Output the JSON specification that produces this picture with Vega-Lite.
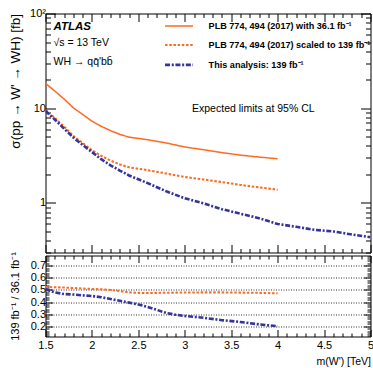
{
  "$schema": "https://vega.github.io/schema/vega-lite/v6.json",
  "padding": {"left": 7.5, "top": 6.5, "right": 0, "bottom": 0},
  "bounds": "flush",
  "spacing": 3,
  "config": {
    "font": "Liberation Sans",
    "view": {"stroke": "#000", "strokeWidth": 1},
    "axis": {"domain": false, "grid": false, "tickColor": "#000", "tickWidth": 1, "labelColor": "#000", "titleColor": "#000", "labelFontSize": 11, "titleFontSize": 10.5, "titleFontWeight": "normal", "labelFont": "Liberation Sans", "titleFont": "Liberation Sans", "labelFlush": false},
    "legend": {"orient": "none", "legendX": 129, "legendY": 8, "padding": 0, "symbolType": "M-14,0H14", "symbolSize": 4, "labelFontSize": 9.1, "labelFontWeight": "bold", "labelFont": "Liberation Sans", "labelColor": "#000", "labelLimit": 400, "rowPadding": 8.9, "labelOffset": 25, "title": null}
  },
  "datasets": {
    "limits": [
      {"series": "s1", "m": 1.5, "sigma": 18.3}, {"series": "s1", "m": 1.6, "sigma": 15.2}, {"series": "s1", "m": 1.7, "sigma": 12.5}, {"series": "s1", "m": 1.8, "sigma": 10.1}, {"series": "s1", "m": 1.9, "sigma": 8.6}, {"series": "s1", "m": 2.0, "sigma": 7.3}, {"series": "s1", "m": 2.1, "sigma": 6.45}, {"series": "s1", "m": 2.2, "sigma": 5.8}, {"series": "s1", "m": 2.3, "sigma": 5.3}, {"series": "s1", "m": 2.4, "sigma": 4.95}, {"series": "s1", "m": 2.5, "sigma": 4.8}, {"series": "s1", "m": 2.6, "sigma": 4.65}, {"series": "s1", "m": 2.8, "sigma": 4.3}, {"series": "s1", "m": 3.0, "sigma": 3.9}, {"series": "s1", "m": 3.2, "sigma": 3.65}, {"series": "s1", "m": 3.4, "sigma": 3.4}, {"series": "s1", "m": 3.6, "sigma": 3.2}, {"series": "s1", "m": 3.8, "sigma": 3.05}, {"series": "s1", "m": 4.0, "sigma": 2.93},
      {"series": "s2", "m": 1.5, "sigma": 9.6}, {"series": "s2", "m": 1.6, "sigma": 7.9}, {"series": "s2", "m": 1.7, "sigma": 6.4}, {"series": "s2", "m": 1.8, "sigma": 5.1}, {"series": "s2", "m": 1.9, "sigma": 4.3}, {"series": "s2", "m": 2.0, "sigma": 3.6}, {"series": "s2", "m": 2.1, "sigma": 3.15}, {"series": "s2", "m": 2.2, "sigma": 2.8}, {"series": "s2", "m": 2.3, "sigma": 2.55}, {"series": "s2", "m": 2.4, "sigma": 2.38}, {"series": "s2", "m": 2.5, "sigma": 2.3}, {"series": "s2", "m": 2.6, "sigma": 2.22}, {"series": "s2", "m": 2.8, "sigma": 2.05}, {"series": "s2", "m": 3.0, "sigma": 1.88}, {"series": "s2", "m": 3.2, "sigma": 1.77}, {"series": "s2", "m": 3.4, "sigma": 1.66}, {"series": "s2", "m": 3.6, "sigma": 1.55}, {"series": "s2", "m": 3.8, "sigma": 1.46}, {"series": "s2", "m": 4.0, "sigma": 1.38},
      {"series": "s3", "m": 1.5, "sigma": 9.4}, {"series": "s3", "m": 1.6, "sigma": 7.6}, {"series": "s3", "m": 1.7, "sigma": 6.1}, {"series": "s3", "m": 1.8, "sigma": 4.9}, {"series": "s3", "m": 1.9, "sigma": 4.1}, {"series": "s3", "m": 2.0, "sigma": 3.45}, {"series": "s3", "m": 2.1, "sigma": 2.9}, {"series": "s3", "m": 2.2, "sigma": 2.5}, {"series": "s3", "m": 2.3, "sigma": 2.2}, {"series": "s3", "m": 2.4, "sigma": 1.95}, {"series": "s3", "m": 2.5, "sigma": 1.78}, {"series": "s3", "m": 2.6, "sigma": 1.62}, {"series": "s3", "m": 2.8, "sigma": 1.33}, {"series": "s3", "m": 3.0, "sigma": 1.12}, {"series": "s3", "m": 3.2, "sigma": 0.99}, {"series": "s3", "m": 3.4, "sigma": 0.86}, {"series": "s3", "m": 3.6, "sigma": 0.77}, {"series": "s3", "m": 3.8, "sigma": 0.69}, {"series": "s3", "m": 4.0, "sigma": 0.6}, {"series": "s3", "m": 4.2, "sigma": 0.56}, {"series": "s3", "m": 4.4, "sigma": 0.52}, {"series": "s3", "m": 4.6, "sigma": 0.5}, {"series": "s3", "m": 4.8, "sigma": 0.465}, {"series": "s3", "m": 5.0, "sigma": 0.435}
    ],
    "ratio": [
      {"series": "s2", "m": 1.5, "r": 0.525}, {"series": "s2", "m": 1.6, "r": 0.522}, {"series": "s2", "m": 1.7, "r": 0.52}, {"series": "s2", "m": 1.8, "r": 0.516}, {"series": "s2", "m": 1.9, "r": 0.512}, {"series": "s2", "m": 2.0, "r": 0.508}, {"series": "s2", "m": 2.1, "r": 0.505}, {"series": "s2", "m": 2.2, "r": 0.5}, {"series": "s2", "m": 2.3, "r": 0.49}, {"series": "s2", "m": 2.4, "r": 0.48}, {"series": "s2", "m": 2.5, "r": 0.476}, {"series": "s2", "m": 2.6, "r": 0.475}, {"series": "s2", "m": 2.8, "r": 0.477}, {"series": "s2", "m": 3.0, "r": 0.479}, {"series": "s2", "m": 3.2, "r": 0.48}, {"series": "s2", "m": 3.4, "r": 0.48}, {"series": "s2", "m": 3.6, "r": 0.478}, {"series": "s2", "m": 3.8, "r": 0.476}, {"series": "s2", "m": 4.0, "r": 0.472},
      {"series": "s3", "m": 1.5, "r": 0.505}, {"series": "s3", "m": 1.6, "r": 0.48}, {"series": "s3", "m": 1.7, "r": 0.466}, {"series": "s3", "m": 1.8, "r": 0.462}, {"series": "s3", "m": 1.9, "r": 0.455}, {"series": "s3", "m": 2.0, "r": 0.45}, {"series": "s3", "m": 2.1, "r": 0.44}, {"series": "s3", "m": 2.2, "r": 0.425}, {"series": "s3", "m": 2.3, "r": 0.41}, {"series": "s3", "m": 2.4, "r": 0.395}, {"series": "s3", "m": 2.5, "r": 0.38}, {"series": "s3", "m": 2.6, "r": 0.36}, {"series": "s3", "m": 2.7, "r": 0.335}, {"series": "s3", "m": 2.8, "r": 0.31}, {"series": "s3", "m": 2.9, "r": 0.295}, {"series": "s3", "m": 3.0, "r": 0.285}, {"series": "s3", "m": 3.2, "r": 0.27}, {"series": "s3", "m": 3.4, "r": 0.25}, {"series": "s3", "m": 3.6, "r": 0.235}, {"series": "s3", "m": 3.8, "r": 0.215}, {"series": "s3", "m": 4.0, "r": 0.2}
    ]
  },
  "vconcat": [
    {
      "width": 325,
      "height": 239,
      "data": {"name": "limits"},
      "resolve": {"axis": {"x": "independent", "y": "independent"}},
      "layer": [
        {
          "mark": {"type": "line", "clip": true, "strokeCap": "butt"},
          "encoding": {
            "x": {"field": "m", "type": "quantitative", "scale": {"domain": [1.5, 5], "nice": false, "zero": false},
              "axis": {"orient": "bottom", "title": null, "labels": false,
                "values": [1.5,1.6,1.7,1.8,1.9,2,2.1,2.2,2.3,2.4,2.5,2.6,2.7,2.8,2.9,3,3.1,3.2,3.3,3.4,3.5,3.6,3.7,3.8,3.9,4,4.1,4.2,4.3,4.4,4.5,4.6,4.7,4.8,4.9,5],
                "tickSize": {"condition": {"test": "abs(datum.value*2-round(datum.value*2))<0.01", "value": -8}, "value": -4}}},
            "y": {"field": "sigma", "type": "quantitative", "scale": {"type": "log", "domain": [0.3, 100], "nice": false},
              "axis": {"orient": "left", "title": "σ(pp → W' → WH) [fb]", "titleFontSize": 13.5, "titleAnchor": "end", "titleX": -30, "titleY": 0, "titleAlign": "right", "titleAngle": -90, "titleBaseline": "middle",
                "values": [0.3,0.4,0.5,0.6,0.7,0.8,0.9,1,2,3,4,5,6,7,8,9,10,20,30,40,50,60,70,80,90,100],
                "labelExpr": "datum.value==100 ? '10²' : (datum.value==10 ? '10' : (datum.value==1 ? '1' : ''))",
                "labelPadding": 10,
                "tickSize": {"condition": {"test": "datum.value==1||datum.value==10||datum.value==100", "value": -10}, "value": -5}}},
            "color": {"field": "series", "type": "nominal", "scale": {"domain": ["s1", "s2", "s3"], "range": ["#ff6a1f", "#ff6a1f", "#34349c"]},
              "legend": {"labelExpr": "datum.value=='s1' ? 'PLB 774, 494 (2017) with 36.1 fb⁻¹' : (datum.value=='s2' ? 'PLB 774, 494 (2017) scaled to 139 fb⁻¹' : 'This analysis: 139 fb⁻¹')"}},
            "strokeDash": {"field": "series", "type": "nominal", "scale": {"domain": ["s1", "s2", "s3"], "range": [[1, 0], [2.5, 1.7], [5, 1.7, 2, 1.7]]}},
            "strokeWidth": {"field": "series", "type": "nominal", "scale": {"domain": ["s1", "s2", "s3"], "range": [1.5, 2.6, 2.6]}}
          }
        },
        {
          "mark": {"type": "point", "opacity": 0},
          "encoding": {
            "x": {"field": "m", "type": "quantitative",
              "axis": {"orient": "top", "title": null, "labels": false,
                "values": [1.5,1.6,1.7,1.8,1.9,2,2.1,2.2,2.3,2.4,2.5,2.6,2.7,2.8,2.9,3,3.1,3.2,3.3,3.4,3.5,3.6,3.7,3.8,3.9,4,4.1,4.2,4.3,4.4,4.5,4.6,4.7,4.8,4.9,5],
                "tickSize": {"condition": {"test": "abs(datum.value*2-round(datum.value*2))<0.01", "value": -8}, "value": -4}}},
            "y": {"field": "sigma", "type": "quantitative",
              "axis": {"orient": "right", "title": null, "labels": false,
                "values": [0.3,0.4,0.5,0.6,0.7,0.8,0.9,1,2,3,4,5,6,7,8,9,10,20,30,40,50,60,70,80,90,100],
                "tickSize": {"condition": {"test": "datum.value==1||datum.value==10||datum.value==100", "value": -10}, "value": -5}}}
          }
        },
        {
          "data": {"values": [{"t": "ATLAS"}]},
          "mark": {"type": "text", "align": "left", "baseline": "middle", "fontSize": 11.5, "fontWeight": "bold", "fontStyle": "italic", "font": "Liberation Sans"},
          "encoding": {"x": {"datum": 1.586, "axis": null}, "y": {"datum": 71.2, "axis": null}, "text": {"field": "t"}}
        },
        {
          "data": {"values": [{"t": "√s = 13 TeV"}]},
          "mark": {"type": "text", "align": "left", "baseline": "middle", "fontSize": 10.5, "font": "Liberation Sans"},
          "encoding": {"x": {"datum": 1.586, "axis": null}, "y": {"datum": 48.5, "axis": null}, "text": {"field": "t"}}
        },
        {
          "data": {"values": [{"t": "WH → qq̄'bb̄"}]},
          "mark": {"type": "text", "align": "left", "baseline": "middle", "fontSize": 10.5, "font": "Liberation Sans"},
          "encoding": {"x": {"datum": 1.586, "axis": null}, "y": {"datum": 30.4, "axis": null}, "text": {"field": "t"}}
        },
        {
          "data": {"values": [{"t": "Expected limits at 95% CL"}]},
          "mark": {"type": "text", "align": "left", "baseline": "middle", "fontSize": 10.5, "font": "Liberation Sans"},
          "encoding": {"x": {"datum": 3.078, "axis": null}, "y": {"datum": 9.7, "axis": null}, "text": {"field": "t"}}
        }
      ]
    },
    {
      "width": 325,
      "height": 81,
      "data": {"name": "ratio"},
      "resolve": {"axis": {"x": "independent", "y": "independent"}},
      "layer": [
        {
          "mark": {"type": "line", "clip": true, "strokeCap": "butt"},
          "encoding": {
            "x": {"field": "m", "type": "quantitative", "scale": {"domain": [1.5, 5], "nice": false, "zero": false},
              "axis": {"orient": "bottom", "title": "m(W') [TeV]", "titleAnchor": "end", "titlePadding": 6,
                "values": [1.5,1.6,1.7,1.8,1.9,2,2.1,2.2,2.3,2.4,2.5,2.6,2.7,2.8,2.9,3,3.1,3.2,3.3,3.4,3.5,3.6,3.7,3.8,3.9,4,4.1,4.2,4.3,4.4,4.5,4.6,4.7,4.8,4.9,5],
                "labelExpr": "abs(datum.value*2-round(datum.value*2))<0.01 ? (abs(datum.value-round(datum.value))<0.01 ? format(datum.value,'d') : format(datum.value,'.1f')) : ''",
                "labelPadding": 10,
                "tickSize": {"condition": {"test": "abs(datum.value*2-round(datum.value*2))<0.01", "value": -7}, "value": -3.5}}},
            "y": {"field": "r", "type": "quantitative", "scale": {"domain": [0.115, 0.785], "nice": false, "zero": false},
              "axis": {"orient": "left", "title": "139 fb⁻¹ / 36.1 fb⁻¹", "titleFontSize": 11, "titleX": -30, "titleBaseline": "middle",
                "values": [0.12,0.14,0.16,0.18,0.2,0.22,0.24,0.26,0.28,0.3,0.32,0.34,0.36,0.38,0.4,0.42,0.44,0.46,0.48,0.5,0.52,0.54,0.56,0.58,0.6,0.62,0.64,0.66,0.68,0.7,0.72,0.74,0.76,0.78],
                "labelExpr": "abs(datum.value*10-round(datum.value*10))<0.001 ? format(datum.value,'.1f') : ''",
                "labelPadding": 7,
                "grid": true, "gridColor": "#333", "gridDash": [1, 1.5],
                "gridOpacity": {"condition": {"test": "abs(datum.value*10-round(datum.value*10))<0.001", "value": 1}, "value": 0},
                "tickSize": {"condition": {"test": "abs(datum.value*10-round(datum.value*10))<0.001", "value": -7}, "value": -3.5}}},
            "color": {"field": "series", "type": "nominal", "scale": {"domain": ["s1", "s2", "s3"], "range": ["#ff6a1f", "#ff6a1f", "#34349c"]}},
            "strokeDash": {"field": "series", "type": "nominal", "scale": {"domain": ["s1", "s2", "s3"], "range": [[1, 0], [2.5, 1.7], [5, 1.7, 2, 1.7]]}},
            "strokeWidth": {"field": "series", "type": "nominal", "scale": {"domain": ["s1", "s2", "s3"], "range": [1.5, 2.6, 2.6]}}
          }
        },
        {
          "mark": {"type": "point", "opacity": 0},
          "encoding": {
            "x": {"field": "m", "type": "quantitative",
              "axis": {"orient": "top", "title": null, "labels": false,
                "values": [1.5,1.6,1.7,1.8,1.9,2,2.1,2.2,2.3,2.4,2.5,2.6,2.7,2.8,2.9,3,3.1,3.2,3.3,3.4,3.5,3.6,3.7,3.8,3.9,4,4.1,4.2,4.3,4.4,4.5,4.6,4.7,4.8,4.9,5],
                "tickSize": {"condition": {"test": "abs(datum.value*2-round(datum.value*2))<0.01", "value": -7}, "value": -3.5}}},
            "y": {"field": "r", "type": "quantitative",
              "axis": {"orient": "right", "title": null, "labels": false,
                "values": [0.12,0.14,0.16,0.18,0.2,0.22,0.24,0.26,0.28,0.3,0.32,0.34,0.36,0.38,0.4,0.42,0.44,0.46,0.48,0.5,0.52,0.54,0.56,0.58,0.6,0.62,0.64,0.66,0.68,0.7,0.72,0.74,0.76,0.78],
                "tickSize": {"condition": {"test": "abs(datum.value*10-round(datum.value*10))<0.001", "value": -7}, "value": -3.5}}}
          }
        }
      ]
    }
  ]
}
